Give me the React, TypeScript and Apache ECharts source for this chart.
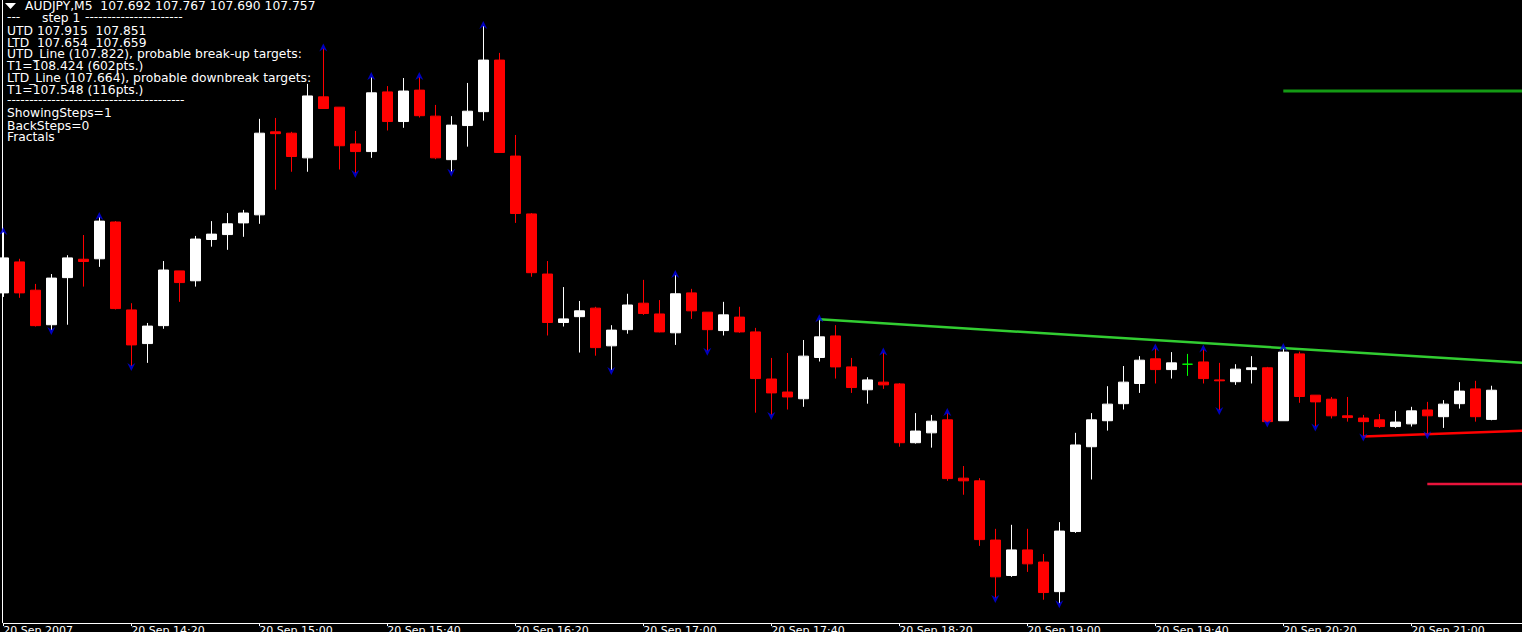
import React, { useEffect, useRef } from "react";
import * as echarts from "echarts";

// AUDJPY, M5 candles
const opens = [
  107.974, 108.043, 107.980, 107.903, 108.008, 108.049, 108.050, 108.132, 107.936, 107.861,
  107.901, 108.023, 108.001, 108.093, 108.104, 108.130, 108.148, 108.333, 108.330, 108.275,
  108.411, 108.388, 108.306, 108.289, 108.422, 108.356, 108.426, 108.368, 108.271, 108.347,
  108.378, 108.493, 108.279, 108.150, 108.016, 107.908, 107.921, 107.940, 107.856, 107.892,
  107.951, 107.927, 107.885, 107.974, 107.931, 107.890, 107.920, 107.887, 107.782, 107.753,
  107.738, 107.830, 107.878, 107.809, 107.758, 107.775, 107.771, 107.640, 107.662, 107.691,
  107.561, 107.555, 107.423, 107.344, 107.401, 107.374, 107.308, 107.442, 107.631, 107.689,
  107.727, 107.772, 107.827, 107.803, 107.815, 107.820, 107.780, 107.776, 107.803, 107.807,
  107.689, 107.838, 107.746, 107.737, 107.700, 107.695, 107.691, 107.676, 107.682, 107.713,
  107.698, 107.727, 107.760, 107.692,
];
const highs = [
  108.110, 108.050, 107.994, 108.016, 108.058, 108.103, 108.143, 108.134, 107.951, 107.907,
  108.045, 108.023, 108.101, 108.134, 108.152, 108.159, 108.362, 108.364, 108.333, 108.440,
  108.519, 108.388, 108.335, 108.455, 108.435, 108.453, 108.455, 108.393, 108.368, 108.442,
  108.569, 108.509, 108.326, 108.152, 108.045, 107.987, 107.956, 107.943, 107.902, 107.972,
  108.003, 107.958, 108.014, 107.983, 107.931, 107.954, 107.943, 107.896, 107.829, 107.840,
  107.869, 107.915, 107.902, 107.829, 107.786, 107.841, 107.773, 107.706, 107.702, 107.706,
  107.588, 107.561, 107.448, 107.457, 107.448, 107.392, 107.463, 107.662, 107.706, 107.766,
  107.811, 107.833, 107.850, 107.842, 107.838, 107.848, 107.818, 107.815, 107.833, 107.809,
  107.851, 107.843, 107.746, 107.742, 107.742, 107.702, 107.704, 107.711, 107.720, 107.731,
  107.735, 107.775, 107.778, 107.767,
];
const lows = [
  107.965, 107.963, 107.899, 107.891, 107.903, 107.988, 108.032, 107.937, 107.811, 107.818,
  107.894, 107.954, 107.988, 108.077, 108.070, 108.099, 108.128, 108.204, 108.244, 108.244,
  108.384, 108.249, 108.241, 108.275, 108.336, 108.342, 108.365, 108.272, 108.244, 108.300,
  108.358, 108.286, 108.130, 108.010, 107.879, 107.899, 107.841, 107.834, 107.802, 107.883,
  107.925, 107.886, 107.858, 107.916, 107.845, 107.879, 107.885, 107.707, 107.702, 107.714,
  107.720, 107.821, 107.783, 107.751, 107.727, 107.760, 107.631, 107.638, 107.629, 107.555,
  107.524, 107.410, 107.294, 107.341, 107.352, 107.290, 107.282, 107.439, 107.558, 107.667,
  107.714, 107.751, 107.772, 107.783, 107.789, 107.772, 107.713, 107.769, 107.772, 107.685,
  107.689, 107.729, 107.676, 107.694, 107.687, 107.654, 107.673, 107.673, 107.676, 107.659,
  107.673, 107.716, 107.687, 107.690,
];
const closes = [
  108.052, 107.974, 107.901, 108.007, 108.052, 108.044, 108.134, 107.939, 107.858, 107.900,
  108.025, 107.997, 108.094, 108.105, 108.128, 108.152, 108.330, 108.329, 108.278, 108.413,
  108.385, 108.302, 108.289, 108.420, 108.356, 108.424, 108.369, 108.275, 108.348, 108.379,
  108.493, 108.287, 108.151, 108.019, 107.908, 107.916, 107.934, 107.852, 107.891, 107.947,
  107.928, 107.887, 107.972, 107.934, 107.892, 107.925, 107.887, 107.783, 107.751, 107.742,
  107.833, 107.876, 107.809, 107.763, 107.780, 107.769, 107.640, 107.666, 107.688, 107.560,
  107.555, 107.424, 107.341, 107.401, 107.370, 107.306, 107.443, 107.635, 107.691, 107.726,
  107.775, 107.824, 107.803, 107.818, 107.815, 107.783, 107.778, 107.804, 107.807, 107.687,
  107.842, 107.743, 107.731, 107.700, 107.696, 107.687, 107.676, 107.686, 107.711, 107.700,
  107.726, 107.755, 107.698, 107.757,
];

const upFractals = [0, 6, 20, 23, 26, 30, 42, 51, 55, 59, 72, 75, 80];
const downFractals = [3, 8, 22, 28, 38, 44, 48, 62, 66, 76, 79, 82, 85, 89];

const tickLabels = [
  "20 Sep 2007", "20 Sep 14:20", "20 Sep 15:00", "20 Sep 15:40", "20 Sep 16:20", "20 Sep 17:00",
  "20 Sep 17:40", "20 Sep 18:20", "20 Sep 19:00", "20 Sep 19:40", "20 Sep 20:20", "20 Sep 21:00",
];

// TD lines: two anchor points each [barIndex, price]
const utdAnchors = [[51, 107.915], [80, 107.851]];
const ltdAnchors = [[85, 107.654], [89, 107.659]];
const upTarget = { from: 80, price: 108.424 };
const downTarget = { from: 89, price: 107.548 };

const infoLines = [
  "UTD 107.915  107.851",
  "LTD  107.654  107.659",
  "UTD_Line (107.822), probable break-up targets:",
  "T1=108.424 (602pts.)",
  "LTD_Line (107.664), probable downbreak targets:",
  "T1=107.548 (116pts.)",
];
const settingLines = ["ShowingSteps=1", "BackSteps=0", "Fractals"];

const SLOTS = 96;
const LAST = SLOTS - 1;

function extend(a: number[][]) {
  const [x1, y1] = a[0];
  const [x2, y2] = a[1];
  const slope = (y2 - y1) / (x2 - x1);
  return [[x1, y1], [LAST, y1 + slope * (LAST - x1)]];
}

const FONT = '"DejaVu Sans", sans-serif';

export default function App() {
  const ref = useRef<HTMLDivElement>(null);
  useEffect(() => {
    document.body.style.margin = "0";
    document.body.style.background = "#000";
    const chart = echarts.init(ref.current!, undefined, { renderer: "svg" });
    const cats = Array.from({ length: SLOTS }, (_, i) => String(i));
    const candles = opens.map((o, i) => [o, closes[i], lows[i], highs[i]]);
    const txt = (x: number, y: number, text: string) => ({
      type: "text",
      x,
      y,
      silent: true,
      style: {
        text,
        fill: "#ffffff",
        font: `12.3px ${FONT}`,
        lineHeight: 11,
        verticalAlign: "middle",
        align: "left",
      },
    });
    const infoY = [31.3, 42.8, 54.3, 66.3, 78.3, 90.3];
    const setY = [113.3, 125.8, 137.3];
    const graphics: any[] = [
      { type: "line", shape: { x1: 2.5, y1: 0, x2: 2.5, y2: 623 }, style: { stroke: "#ffffff", lineWidth: 1 }, silent: true },
      { type: "polygon", shape: { points: [[5, 3], [16, 3], [10.5, 9]] }, style: { fill: "#ffffff" }, silent: true },
      txt(25, 5.8, "AUDJPY,M5  107.692 107.767 107.690 107.757"),
      txt(7, 16.5, "---"),
      txt(42, 17.5, "step 1"),
      txt(85, 16.5, "----------------------"),
      ...infoLines.map((t, i) => txt(7, infoY[i], t)),
      txt(7, 100, "----------------------------------------"),
      ...settingLines.map((t, i) => txt(7, setY[i], t)),
    ];
    const lineSeries = (data: number[][], color: string, width: number) => ({
      type: "line",
      data,
      showSymbol: false,
      silent: true,
      z: 4,
      lineStyle: { color, width },
      animation: false,
    });
    chart.setOption({
      animation: false,
      backgroundColor: "#000000",
      grid: { left: 3.3, top: 0, width: 1520, height: 623, outerBoundsMode: "none", containLabel: false },
      xAxis: {
        type: "category",
        data: cats,
        boundaryGap: false,
        axisLine: { show: true, lineStyle: { color: "#ffffff", width: 1 } },
        axisTick: { show: true, length: 3, interval: (i: number) => i % 8 === 0, lineStyle: { color: "#ffffff" } },
        axisLabel: {
          show: true,
          interval: (i: number) => i % 8 === 0 && i / 8 < tickLabels.length,
          formatter: (_v: string, i: number) => tickLabels[i / 8] ?? "",
          color: "#ffffff",
          fontFamily: FONT,
          fontSize: 11,
          margin: 2,
          align: "left",
        },
        splitLine: { show: false },
      },
      yAxis: {
        type: "value",
        min: 107.2381,
        max: 108.6269,
        show: false,
        splitLine: { show: false },
      },
      series: [
        {
          type: "candlestick",
          data: candles,
          barWidth: 10,
          clip: true,
          z: 2,
          itemStyle: {
            color: "#ffffff",
            color0: "#ff0000",
            borderColor: "#ffffff",
            borderColor0: "#ff0000",
            borderColorDoji: "#00ff00",
            borderWidth: 1,
          },
        },
        {
          type: "scatter",
          data: upFractals.map((i) => [i, highs[i]]),
          symbol: "path://M5,0 L10,9 L5,6 L0,9 Z",
          symbolSize: [8, 8],
          symbolOffset: [0, -1],
          itemStyle: { color: "#0000ee" },
          z: 5,
          silent: true,
        },
        {
          type: "scatter",
          data: downFractals.map((i) => [i, lows[i]]),
          symbol: "path://M5,9 L10,0 L5,3 L0,0 Z",
          symbolSize: [8, 8],
          symbolOffset: [0, 1],
          itemStyle: { color: "#0000ee" },
          z: 5,
          silent: true,
        },
        lineSeries(extend(utdAnchors), "#32cd32", 2.5),
        lineSeries(extend(ltdAnchors), "#ff0000", 2.5),
        lineSeries([[upTarget.from, upTarget.price], [LAST, upTarget.price]], "#149a14", 3),
        lineSeries([[downTarget.from, downTarget.price], [LAST, downTarget.price]], "#e8143c", 2.5),
      ],
      graphic: graphics,
    });
    return () => chart.dispose();
  }, []);
  return (
    <div
      ref={ref}
      style={{ position: "absolute", left: 0, top: 0, width: 1522, height: 632, background: "#000" }}
    />
  );
}
